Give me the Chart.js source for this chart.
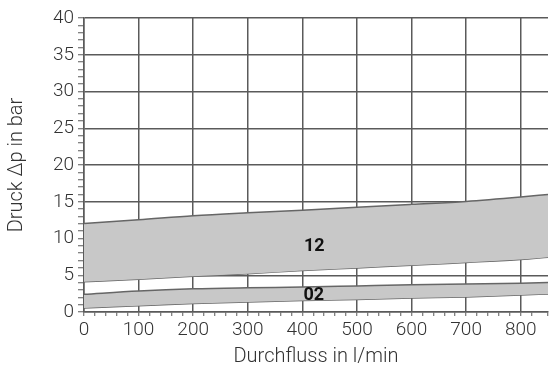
<!DOCTYPE html>
<html>
<head>
<meta charset="utf-8">
<script src="https://cdn.jsdelivr.net/npm/chart.js@4/dist/chart.umd.min.js"></script>
<style>
  html, body { margin: 0; padding: 0; background: #fff; }
  #wrap { width: 551px; height: 370px; }
</style>
</head>
<body>
<div id="wrap"><canvas id="druckChart"></canvas></div>
<script>
// Durchfluss (l/min)
const flow = [0, 100, 200, 300, 400, 500, 600, 700, 800, 850];

// Kennlinie 12: obere und untere Grenze (bar)
const upper12 = [12.05, 12.55, 13.1, 13.5, 13.85, 14.25, 14.65, 15.05, 15.65, 16.0];
const lower12 = [4.1, 4.45, 4.85, 5.2, 5.65, 6.0, 6.35, 6.75, 7.15, 7.45];

// Kennlinie 02: obere und untere Grenze (bar)
const upper02 = [2.4, 2.85, 3.15, 3.3, 3.4, 3.55, 3.7, 3.8, 3.9, 4.0];
const lower02 = [0.55, 0.85, 1.15, 1.35, 1.55, 1.7, 1.9, 2.05, 2.3, 2.45];

// Beschriftung der Bänder (Position in Datenkoordinaten)
const bandNames = ['12', '02'];
const bandNameX = [422, 421];
const bandNameY = [8.9, 2.2];

const gridColor = '#5a5a5a';
const bandFill = '#c8c8c8';
const bandLine = '#666666';
const textColor = '#333333';

function toPoints(ys) {
  return flow.map((x, i) => ({ x: x, y: ys[i] }));
}

function bandDataset(ys, fill) {
  return {
    data: toPoints(ys),
    borderColor: bandLine,
    borderWidth: 1.5,
    backgroundColor: bandFill,
    fill: fill,
    pointRadius: 0,
    cubicInterpolationMode: 'monotone'
  };
}

// Namen der Bänder mittig hineinschreiben
const bandNamePlugin = {
  id: 'bandNames',
  afterDatasetsDraw(chart) {
    const ctx = chart.ctx;
    const xs = chart.scales.x;
    const ys = chart.scales.y;
    ctx.save();
    ctx.font = 'bold 18px Roboto';
    ctx.fillStyle = '#111';
    ctx.textAlign = 'center';
    ctx.textBaseline = 'middle';
    bandNames.forEach((name, i) => {
      ctx.fillText(name, xs.getPixelForValue(bandNameX[i]), ys.getPixelForValue(bandNameY[i]));
    });
    ctx.restore();
  }
};

const tickFont = { family: 'Roboto', size: 19, weight: '300' };
const titleFont = { family: 'Roboto', size: 20, weight: '300' };

new Chart(document.getElementById('druckChart'), {
  type: 'line',
  data: {
    datasets: [
      bandDataset(upper12, '+1'),
      bandDataset(lower12, false),
      bandDataset(upper02, '+1'),
      bandDataset(lower02, false)
    ]
  },
  options: {
    responsive: true,
    maintainAspectRatio: false,
    animation: false,
    layout: { padding: { top: 18, right: 0, left: 0, bottom: 0 } },
    plugins: {
      legend: { display: false },
      tooltip: { enabled: false }
    },
    scales: {
      x: {
        type: 'linear',
        min: 0,
        max: 850,
        afterFit(scale) { scale.height = 58; },
        border: { display: true, color: gridColor, width: 1.5 },
        grid: {
          color: (c) => (c.tick && c.tick.value % 100 === 0 ? gridColor : 'rgba(0,0,0,0)'),
          lineWidth: 1.5,
          tickColor: gridColor,
          tickLength: 4,
          tickWidth: 1
        },
        ticks: {
          stepSize: 20,
          autoSkip: false,
          maxRotation: 0,
          padding: 3,
          color: textColor,
          font: tickFont,
          callback: (v) => (v % 100 === 0 ? v : '')
        },
        title: {
          display: true,
          text: 'Durchfluss in l/min',
          color: textColor,
          font: titleFont,
          padding: { top: 0, bottom: 1 }
        }
      },
      y: {
        min: 0,
        max: 40,
        afterFit(scale) { scale.width = 84; },
        border: { display: true, color: gridColor, width: 1.5 },
        grid: {
          color: (c) => (c.tick && c.tick.value % 5 === 0 ? gridColor : 'rgba(0,0,0,0)'),
          lineWidth: 1.5,
          tickColor: gridColor,
          tickLength: 6,
          tickWidth: 1
        },
        ticks: {
          stepSize: 1,
          autoSkip: false,
          padding: 4,
          color: textColor,
          font: tickFont,
          callback: (v) => (v % 5 === 0 ? v : '')
        },
        title: {
          display: true,
          text: 'Druck \u0394p in bar',
          color: textColor,
          font: titleFont,
          padding: { top: 5, bottom: 0 }
        }
      }
    }
  },
  plugins: [bandNamePlugin]
});
</script>
</body>
</html>
